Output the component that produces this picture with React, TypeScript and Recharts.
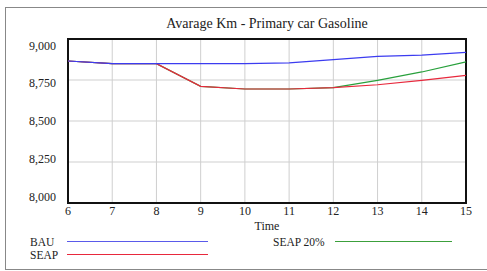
import type { ReactNode } from 'react'
import { CartesianGrid, Line, LineChart, ReferenceArea, XAxis, YAxis } from 'recharts'

// values (Vensim style run comparison)
const years = [6, 7, 8, 9, 10, 11, 12, 13, 14, 15]
const bau = [8866, 8850, 8850, 8850, 8850, 8854, 8874, 8894, 8902, 8918]
const seap = [8866, 8850, 8850, 8711, 8695, 8695, 8703, 8721, 8748, 8778]
const seap20 = [8866, 8850, 8850, 8711, 8695, 8695, 8703, 8748, 8799, 8860]
const yTicks = [8000, 8250, 8500, 8750, 9000]
const legendItems = [
  { label: 'BAU', color: '#5a5aea' },
  { label: 'SEAP', color: '#e8283c' },
  { label: 'SEAP 20%', color: '#3ca03c' },
]

const data = years.map((t, i) => ({ t, bau: bau[i], seap: seap[i], seap20: seap20[i] }))

const FONT = 'Liberation Serif'
const BLUE = '#3c3cf0'
const RED = '#e8283c'
const GREEN = '#28a03c'
const TICK = { fill: '#222', fontSize: 12, fontFamily: FONT } as const

// Vensim packs the value labels a bit tighter than the gridlines
function YTick(props: any): ReactNode {
  const { x, y, payload } = props
  const ty = 121 + (y - 121) * 0.92
  return (
    <text x={x} y={ty} dy="0.35em" textAnchor="end" fill="#222" fontSize={12} fontFamily={FONT}>
      {Number(payload.value).toLocaleString('en-US')}
    </text>
  )
}

// legend slots: [text x, line x1, line x2, y]
const SLOTS = [
  [30, 67, 208, 241.5],
  [30, 67, 208, 254.5],
  [273, 335, 452, 241.5],
]

function LegendSvg(): ReactNode {
  return (
    <svg width={487} height={271} style={{ position: 'absolute', left: 0, top: 0 }}>
      <text x={267} y={28} textAnchor="middle" fontSize={14} fontFamily={FONT} fill="#222">
        Avarage Km - Primary car Gasoline
      </text>
      {legendItems.map((it, i) => {
        const [tx, x1, x2, y] = SLOTS[i]
        return (
          <g key={it.label}>
            <text x={tx} y={y} dy="0.35em" fontSize={11.5} fontFamily={FONT} fill="#222">
              {it.label}
            </text>
            <line x1={x1} x2={x2} y1={y} y2={y} stroke={it.color} strokeWidth={1.2} />
          </g>
        )
      })}
    </svg>
  )
}

export default function App(): ReactNode {
  return (
    <div style={{ position: 'absolute', left: 0, top: 0, width: 487, height: 271, background: '#fff', overflow: 'hidden' }}>
      <div style={{ position: 'absolute', left: 5, top: 7, width: 500, height: 261, border: '1px solid #888' }} />
      <LegendSvg />
      <LineChart width={487} height={271} data={data} margin={{ top: 39, right: 21, bottom: 38, left: 8 }} style={{ position: 'absolute', left: 0, top: 0 }}>
        <CartesianGrid stroke="#cfcfcf" strokeWidth={1} />
        <XAxis
          dataKey="t"
          type="number"
          domain={[6, 15]}
          ticks={years}
          height={30}
          tick={TICK}
          tickLine={false}
          axisLine={false}
          tickSize={0}
          tickMargin={3}
          label={{ value: 'Time', position: 'insideBottom', offset: 3, fill: '#222', fontSize: 12, fontFamily: FONT }}
        />
        <YAxis
          type="number"
          domain={[8000, 9000]}
          ticks={yTicks}
          width={60}
          tick={<YTick />}
          tickLine={false}
          axisLine={false}
          tickMargin={6}
        />
        <Line dataKey="seap20" stroke={GREEN} strokeWidth={1.2} dot={false} isAnimationActive={false} />
        <Line dataKey="seap" stroke={RED} strokeWidth={1.2} dot={false} isAnimationActive={false} />
        <Line dataKey="bau" stroke={BLUE} strokeWidth={1.2} dot={false} isAnimationActive={false} />
        <ReferenceArea x1={6} x2={15} y1={8000} y2={9000} fill="none" stroke="#111" strokeWidth={2} ifOverflow="visible" />
      </LineChart>
    </div>
  )
}
